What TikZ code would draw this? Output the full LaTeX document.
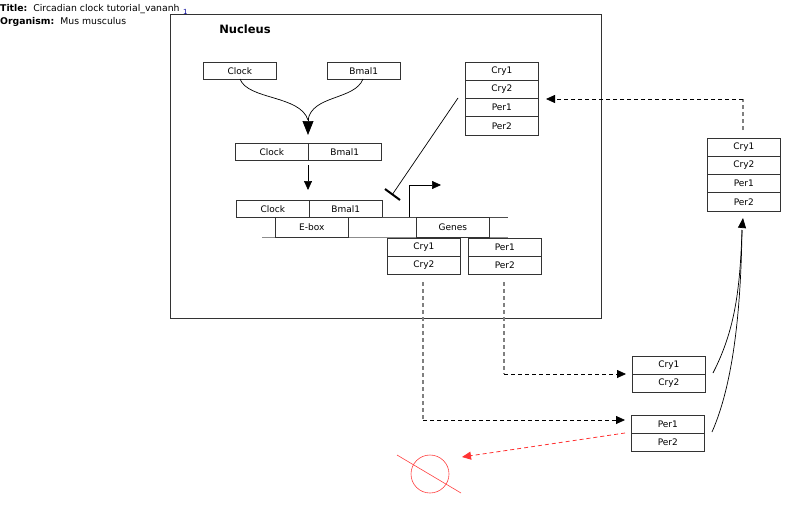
\documentclass[tikz,border=0pt]{standalone}
\usepackage{fontspec}
\setmainfont{DejaVu Sans}
\usetikzlibrary{arrows.meta}
\begin{document}
\begin{tikzpicture}[x=1pt,y=-1pt,
  gbox/.style={draw=black!80,line width=0.6pt,minimum width=73pt,minimum height=18pt,inner sep=0pt,font=\fontsize{9}{10}\selectfont,anchor=north west},
  arr/.style={-{Triangle[length=9pt,width=8pt]},line width=0.7pt},
  dashline/.style={dashed,dash pattern=on 4pt off 3pt,line width=0.8pt},
  greydash/.style={dashed,dash pattern=on 4pt off 3pt,line width=1.1pt,draw=black!50}]
\useasboundingbox (0,0) rectangle (800,506);
% title
\node[anchor=west,inner sep=0pt,font=\fontsize{9.3}{10}\selectfont] (title) at (0,9) {\textbf{Title:}\hspace{6pt}Circadian clock tutorial\_vananh};
\node[anchor=west,inner sep=0pt,font=\fontsize{7}{7}\selectfont,text=blue!60!black] (sup) at (183,12) {1};
\node[anchor=west,inner sep=0pt,font=\fontsize{9.3}{10}\selectfont] (org) at (0,22) {\textbf{Organism:}\hspace{6pt}Mus musculus};
% nucleus
\draw[line width=0.6pt,draw=black!80] (170,14) rectangle (601,318);
\node[font=\bfseries\fontsize{11.5}{12}\selectfont,inner sep=0pt] (nuc) at (245,29) {Nucleus};
% top boxes
\node[gbox,minimum height=17pt] (clock) at (203,62) {Clock};
\node[gbox,minimum height=17pt] (bmal) at (327,62) {Bmal1};
\node[gbox,minimum height=17pt] (c1) at (235,143) {Clock};
\node[gbox,minimum height=17pt] (b1) at (308,143) {Bmal1};
\node[gbox,minimum height=17pt] (c2) at (236,200) {Clock};
\node[gbox,minimum height=17pt] (b2) at (309,200) {Bmal1};
\coordinate (m) at (308,135);
\draw[line width=0.7pt] (240,79) .. controls (248,100) and (300,95) .. (308,120);
\draw[line width=0.7pt] (363,79) .. controls (355,100) and (312,95) .. (308,120);
\draw[-{Triangle[length=14pt,width=11pt]},line width=0.7pt] (308,118) -- (m);
\draw[arr] (308,165) -- (308,190);
% gene line
\draw[line width=0.6pt,draw=black!70] (382,217) -- (508,217);
\draw[line width=0.6pt,draw=black!45] (262,237) -- (508,237);
\node[gbox,minimum height=20pt] (ebox) at (275,217) {E-box};
\node[gbox,minimum height=20pt] (genes) at (416,217) {Genes};
\draw[arr,line width=0.6pt] (409,217) -- (409,185) -- (441,185);
% top right stack in nucleus
\node[gbox] (tc1) at (465,62) {Cry1};
\node[gbox] (tc2) at (465,80) {Cry2};
\node[gbox] (tp1) at (465,98) {Per1};
\node[gbox,minimum height=19pt] (tp2) at (465,116) {Per2};
% inhibition
\draw[line width=0.7pt] (458,98) -- (392,195);
\draw[line width=2pt] (385,189) -- (400,200);
% gene products
\node[gbox] (gc1) at (387,238) {Cry1};
\node[gbox] (gc2) at (387,256) {Cry2};
\node[gbox] (gp1) at (468,238) {Per1};
\node[gbox] (gp2) at (468,256) {Per2};
% right stack
\node[gbox] (rc1) at (707,138) {Cry1};
\node[gbox] (rc2) at (707,156) {Cry2};
\node[gbox] (rp1) at (707,174) {Per1};
\node[gbox,minimum height=19pt] (rp2) at (707,192) {Per2};
% bottom stacks
\node[gbox] (bc1) at (632,356) {Cry1};
\node[gbox] (bc2) at (632,374) {Cry2};
\node[gbox] (bp1) at (631,415) {Per1};
\node[gbox] (bp2) at (631,433) {Per2};
% dashed arrows
\draw[greydash] (743,130) -- (743,99);
\draw[dashline,-{Triangle[length=9pt,width=8pt]}] (743,99) -- (546,99);
\draw[greydash] (504,282) -- (504,374);
\draw[dashline,-{Triangle[length=9pt,width=8pt]}] (504,374) -- (626,374);
\draw[greydash] (423,282) -- (423,420);
\draw[dashline,-{Triangle[length=9pt,width=8pt]}] (423,420) -- (625,420);
\draw[dashline,draw=red!80,-{Triangle[length=9pt,width=8pt]}] (625,433) -- (462,457);
% degradation
\draw[red!75,line width=0.6pt] (430,474) circle (19);
\draw[red!75,line width=0.6pt] (397,455) -- (461,493);
% transport curves
\coordinate (up) at (743,218);
\draw[line width=0.7pt] (713,373) .. controls (735,330) and (740,290) .. (742,230);
\draw[line width=0.7pt] (712,432) .. controls (735,380) and (741,300) .. (742,230);
\draw[-{Triangle[length=10pt,width=8pt]},line width=0.7pt] (742,228) -- (up);
\end{tikzpicture}
\end{document}
